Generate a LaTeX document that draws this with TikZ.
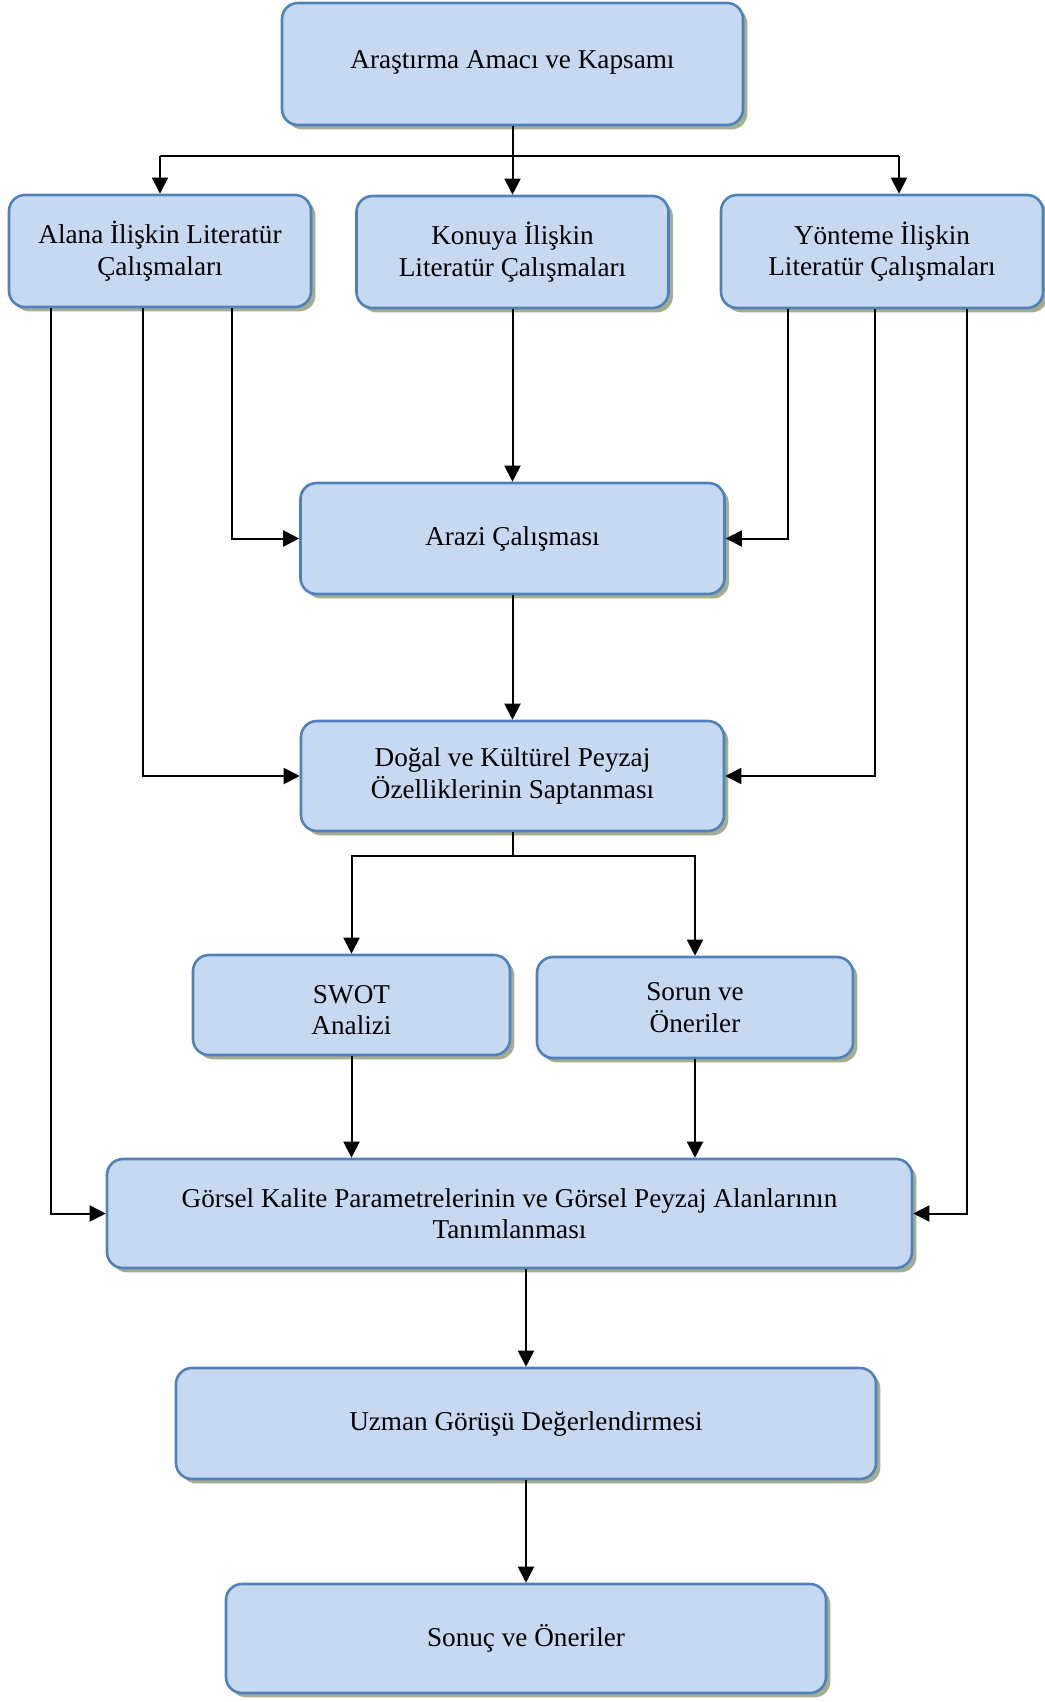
\documentclass[tikz,border=0pt]{standalone}
\usepackage{fontspec}
\setmainfont{Liberation Serif}
\usetikzlibrary{arrows.meta,shadows}
\definecolor{boxfill}{HTML}{C6D9F1}
\definecolor{boxline}{HTML}{4F81BD}
\definecolor{shcol}{HTML}{A3AD8F}
\begin{document}
\begin{tikzpicture}[x=0.5pt,y=-0.5pt,
  box/.style={draw=boxline, line width=1.3pt, fill=boxfill, rounded corners=8pt,
    align=center, inner sep=2pt, font=\fontsize{13.6}{15.8}\selectfont, text=black,
    drop shadow={shadow xshift=2.2pt, shadow yshift=-2.2pt, fill=shcol, opacity=1}},
  boxtext/.style={align=center, inner sep=0pt, font=\fontsize{13.6}{15.8}\selectfont, text=black},
  arr/.style={-{Triangle[length=8pt,width=8pt]}, line width=1pt},
  conn/.style={line width=1pt}]
\useasboundingbox (0,0) rectangle (1044,1702);

\node[box, minimum width=230.5pt, minimum height=61pt, text depth=4pt] (A) at (512.5,64) {Araştırma Amacı ve Kapsamı};
\node[box, minimum width=151pt, minimum height=56pt] (B1) at (160,251) {Alana İlişkin Literatür\\Çalışmaları};
\node[box, minimum width=156pt, minimum height=56pt] (B2) at (512.5,252) {Konuya İlişkin\\Literatür Çalışmaları};
\node[box, minimum width=161pt, minimum height=56.5pt] (B3) at (882,251.5) {Yönteme İlişkin\\Literatür Çalışmaları};
\node[box, minimum width=212pt, minimum height=55.5pt] (C) at (512.5,538.5) {Arazi Çalışması};
\node[box, minimum width=211.5pt, minimum height=55pt] (D) at (512.5,776) {Doğal ve Kültürel Peyzaj\\Özelliklerinin Saptanması};
\node[box, minimum width=158.5pt, minimum height=50pt] (E1) at (351.5,1005) {};
\node[boxtext] (E1t) at ([yshift=-2.5pt]E1.center) {SWOT\\Analizi};
\node[box, minimum width=158pt, minimum height=50.5pt] (E2) at (695,1007.5) {Sorun ve\\Öneriler};
\node[box, minimum width=402.5pt, minimum height=54.5pt] (F) at (509.5,1213.5) {Görsel Kalite Parametrelerinin ve Görsel Peyzaj Alanlarının\\Tanımlanması};
\node[box, minimum width=350pt, minimum height=55.5pt] (G) at (526,1423.5) {Uzman Görüşü Değerlendirmesi};
\node[box, minimum width=300pt, minimum height=54.5pt] (H) at (526,1638.5) {Sonuç ve Öneriler};

\coordinate (hy) at (0,156);
\coordinate (hy2) at (0,856);
\coordinate (x51) at (51,0);
\coordinate (x143) at (143,0);
\coordinate (x232) at (232,0);
\coordinate (x788) at (788,0);
\coordinate (x875) at (875,0);
\coordinate (x967) at (967,0);
\coordinate (x899) at (899,0);
\coordinate (s1) at (A.south |- hy);
\coordinate (s2) at (D.south |- hy2);

\draw[conn] (A.south) -- (s1);
\draw[conn] (s1 -| B1.north) -- (s1 -| x899);
\draw[arr] (s1 -| B1.north) -- (B1.north);
\draw[arr] (s1) -- (B2.north);
\draw[arr] (s1 -| x899) -- (B3.north -| x899);

\draw[arr] (B1.south -| x232) |- (C.west);
\draw[arr] (B1.south -| x143) |- (D.west);
\draw[arr] (B1.south -| x51) |- (F.west);
\draw[arr] (B3.south -| x788) |- (C.east);
\draw[arr] (B3.south -| x875) |- (D.east);
\draw[arr] (B3.south -| x967) |- (F.east);

\draw[arr] (B2.south) -- (C.north);
\draw[arr] (C.south) -- (D.north);
\draw[conn] (D.south) -- (s2);
\draw[arr] (s2) -| (E1.north);
\draw[arr] (s2) -| (E2.north);
\draw[arr] (E1.south) -- (E1.south |- F.north);
\draw[arr] (E2.south) -- (E2.south |- F.north);
\draw[arr] (G.north |- F.south) -- (G.north);
\draw[arr] (G.south) -- (H.north);
\end{tikzpicture}
\end{document}
